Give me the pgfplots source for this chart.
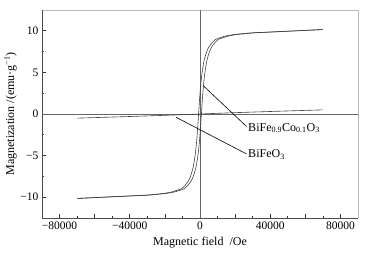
\documentclass[border=0pt]{standalone}
\usepackage{fontspec}
\setmainfont{Liberation Serif}
\usepackage{pgfplots}
\pgfplotsset{compat=1.18}
\usetikzlibrary{calc}

\begin{document}
\begin{tikzpicture}
\begin{axis}[
    name=ax,
    scale only axis,
    width=316pt, height=208pt,
    xmin=-90000, xmax=90000,
    ymin=-12.5, ymax=12.5,
    xtick={-80000,-60000,-40000,-20000,0,20000,40000,60000,80000},
    xticklabels={−80000,,−40000,,0,,40000,,80000},
    ytick={-10,-5,0,5,10},
    yticklabels={−10,−5,0,5,10},
    minor x tick num=1,
    minor y tick num=1,
    scaled x ticks=false,
    tick align=inside,
    xtick pos=bottom, ytick pos=left,
    major tick length=4pt, minor tick length=2pt,
    tick style={black!80, line width=0.6pt},
    axis line style={draw=none},
    tick label style={font=\fontsize{11.5}{12}\selectfont},
    label style={font=\fontsize{12}{13}\selectfont},
    xlabel={Magnetic field\ \ /Oe},
    ylabel={Magnetization /(emu·g\textsuperscript{−1})},
    xlabel style={yshift=-1pt},
    ylabel style={yshift=-3pt},
    clip=false,
]
% frame: darker on left and bottom
\draw[gray!55, line width=0.8pt] (rel axis cs:0,1) -- (rel axis cs:1,1) -- (rel axis cs:1,0);
\draw[black!70, line width=0.8pt] (rel axis cs:0,1) -- (rel axis cs:0,0) -- (rel axis cs:1,0);
% zero lines
\draw[black!60, line width=0.6pt] (axis cs:0,-12.5) -- (axis cs:0,12.5);
\draw[black!60, line width=0.6pt] (axis cs:-90000,0) -- (axis cs:90000,0);

% BiFe0.9Co0.1O3 loop, ascending branch
\addplot[black!75, line width=0.6pt, smooth, tension=0.3] coordinates {
(-70000,-10.15) (-59200,-10.05) (-49200,-9.95) (-39200,-9.85) (-29200,-9.75)
(-19200,-9.55) (-14200,-9.35) (-9200,-9.0) (-7200,-8.65) (-5200,-8.1)
(-4200,-7.7) (-3200,-7.1) (-2200,-6.3) (-1200,-5.0) (-700,-4.1) (-200,-3.0)
(300,-1.6) (800,0) (1300,1.6) (1800,3.0) (2300,4.1) (2800,5.0) (3800,6.3)
(4800,7.1) (5800,7.7) (6800,8.1) (8800,8.65) (10800,9.0) (15800,9.35)
(20800,9.55) (30800,9.75) (40800,9.85) (50800,9.95) (60800,10.05) (70000,10.15)};
% descending branch
\addplot[black!75, line width=0.6pt, smooth, tension=0.3] coordinates {
(70000,10.15) (59200,10.05) (49200,9.95) (39200,9.85) (29200,9.75)
(19200,9.55) (14200,9.35) (9200,9.0) (7200,8.65) (5200,8.1)
(4200,7.7) (3200,7.1) (2200,6.3) (1200,5.0) (700,4.1) (200,3.0)
(-300,1.6) (-800,0) (-1300,-1.6) (-1800,-3.0) (-2300,-4.1) (-2800,-5.0) (-3800,-6.3)
(-4800,-7.1) (-5800,-7.7) (-6800,-8.1) (-8800,-8.65) (-10800,-9.0) (-15800,-9.35)
(-20800,-9.55) (-30800,-9.75) (-40800,-9.85) (-50800,-9.95) (-60800,-10.05) (-70000,-10.15)};

% BiFeO3
\addplot[black!75, line width=0.6pt, smooth] coordinates {
(-70000,-0.5) (-40000,-0.3) (-20000,-0.16) (0,0) (20000,0.16) (40000,0.3) (70000,0.5)};

% annotations
\draw[black, line width=0.6pt] (axis cs:2100,3.35) -- (axis cs:26500,-1.5);
\draw[black, line width=0.6pt] (axis cs:-13600,-0.4) -- (axis cs:26500,-4.8);
\node[anchor=west, inner sep=1pt, font=\fontsize{12}{13}\selectfont]
  at (axis cs:26800,-1.7) {BiFe\textsubscript{0.9}Co\textsubscript{0.1}O\textsubscript{3}};
\node[anchor=west, inner sep=1pt, font=\fontsize{12}{13}\selectfont]
  at (axis cs:26800,-4.9) {BiFeO\textsubscript{3}};
\end{axis}
\pgfresetboundingbox
\path ($(ax.south west)+(-42pt,-38pt)$) rectangle ($(ax.north east)+(10pt,10pt)$);
\end{tikzpicture}
\end{document}
